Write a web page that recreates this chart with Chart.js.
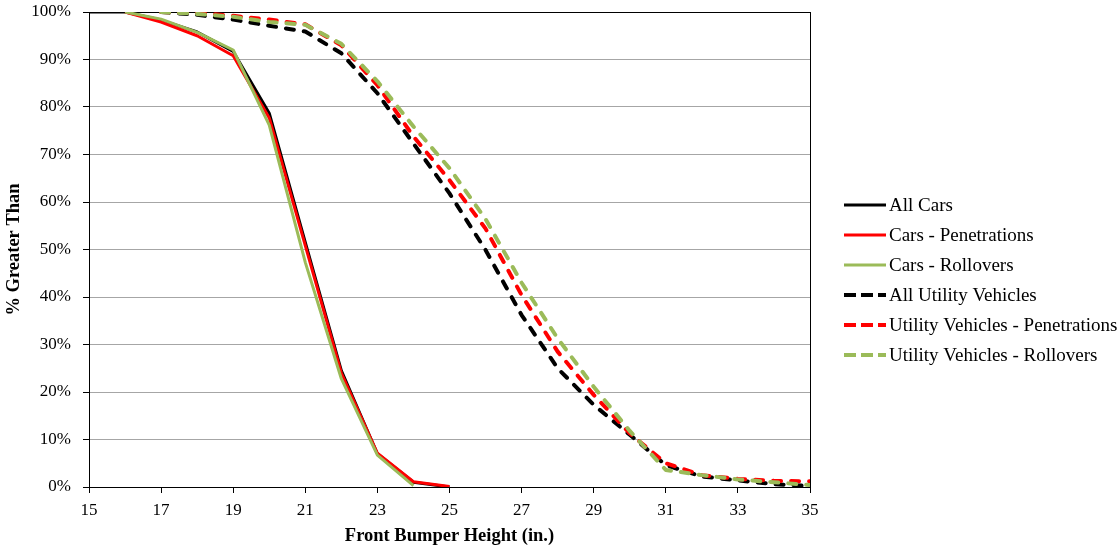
<!DOCTYPE html>
<html>
<head>
<meta charset="utf-8">
<script src="https://cdn.jsdelivr.net/npm/chart.js@4/dist/chart.umd.min.js"></script>
<style>
  body { margin: 0; background: #fff; }
  #wrap { width: 1119px; height: 548px; }
</style>
</head>
<body>
<div id="wrap"><canvas id="grafico" width="1119" height="548"></canvas></div>
<script>
// front bumper height (in.)
const alturas = [15, 16, 17, 18, 19, 20, 21, 22, 23, 24, 25, 26, 27, 28, 29, 30, 31, 32, 33, 34, 35];

// % greater than
const allCars = [100, 100, 98.3, 95.8, 91.7, 78.7, 51.5, 24.5, 7, 1, 0, null, null, null, null, null, null, null, null, null, null];
const carsPen = [null, 100, 97.9, 95, 90.8, 77.7, 50.8, 24, 7.1, 1.1, 0.1, null, null, null, null, null, null, null, null, null, null];
const carsRoll = [null, 100, 98.5, 95.7, 92, 76.2, 47.3, 22.8, 6.7, 0.3, null, null, null, null, null, null, null, null, null, null, null];
const allUV = [null, null, 100, 99.4, 98.4, 97.1, 95.9, 91.3, 82.9, 72.3, 61.8, 49.9, 36.2, 25, 17.3, 11, 4.6, 2.2, 1.4, 0.6, 0.2];
const uvPen = [null, null, 100, 99.8, 99.2, 98.4, 97.4, 93, 84.6, 73.8, 64.6, 54.4, 40.4, 28.5, 19.4, 11.3, 5, 2.5, 1.7, 1.3, 1.2];
const uvRoll = [null, null, 100, 99.6, 99, 97.9, 97.3, 93.3, 85.4, 75.9, 67.1, 56.4, 43, 31.3, 21.1, 11.8, 3.6, 2.5, 1.6, 1, 0.4];

const yTicks = [0, 10, 20, 30, 40, 50, 60, 70, 80, 90, 100];

const verde = '#9bbb59';
const vermelho = '#ff0000';
const preto = '#000000';
const fonte = '"Liberation Serif", "Times New Roman", serif';

function pontos(valores) {
    return alturas.map((x, i) => ({ x: x, y: valores[i] }));
}

const series = [
    { label: 'All Cars', data: allCars, cor: preto, tracejado: false },
    { label: 'Cars - Penetrations', data: carsPen, cor: vermelho, tracejado: false },
    { label: 'Cars - Rollovers', data: carsRoll, cor: verde, tracejado: false },
    { label: 'All Utility Vehicles', data: allUV, cor: preto, tracejado: true },
    { label: 'Utility Vehicles - Penetrations', data: uvPen, cor: vermelho, tracejado: true },
    { label: 'Utility Vehicles - Rollovers', data: uvRoll, cor: verde, tracejado: true },
];

Chart.defaults.font.family = fonte;
Chart.defaults.font.size = 17;
Chart.defaults.color = '#000';

// moldura da area do grafico
const moldura = {
    id: 'moldura',
    beforeDatasetsDraw(chart) {
        const { ctx, chartArea: a } = chart;
        ctx.save();
        ctx.strokeStyle = '#000';
        ctx.lineWidth = 1;
        ctx.strokeRect(a.left + 0.5, a.top + 0.5, a.right - a.left, a.bottom - a.top);
        ctx.restore();
    }
};

// legenda desenhada a mao
const legenda = {
    id: 'legenda',
    afterDraw(chart) {
        const ctx = chart.ctx;
        ctx.save();
        ctx.font = '19px ' + fonte;
        ctx.textBaseline = 'middle';
        ctx.fillStyle = '#000';
        series.forEach((s, i) => {
            const y = 205 + i * 30;
            ctx.strokeStyle = s.cor;
            if (s.tracejado) {
                ctx.lineWidth = 4;
                ctx.setLineDash([12, 5]);
            } else {
                ctx.lineWidth = 3;
                ctx.setLineDash([]);
            }
            ctx.beginPath();
            ctx.moveTo(844, y);
            ctx.lineTo(886, y);
            ctx.stroke();
            ctx.fillText(s.label, 889, y + 1);
        });
        ctx.restore();
    }
};

new Chart(document.getElementById('grafico'), {
    type: 'line',
    data: {
        datasets: series.map((s, i) => ({
            label: s.label,
            data: pontos(s.data),
            borderColor: s.cor,
            backgroundColor: s.cor,
            borderWidth: s.tracejado ? 4 : 3,
            borderDash: s.tracejado ? [8, 10] : [],
            borderCapStyle: s.tracejado ? 'round' : 'butt',
            borderJoinStyle: 'round',
            pointRadius: 0,
            tension: 0,
            fill: false,
            order: series.length - i, // ultimas series por cima, como no Excel
        }))
    },
    options: {
        responsive: false,
        animation: false,
        devicePixelRatio: 1,
        layout: {
            padding: { top: 12, right: 309, left: 0, bottom: 0 }
        },
        plugins: {
            legend: { display: false },
            tooltip: { enabled: false },
        },
        scales: {
            x: {
                type: 'linear',
                min: 15,
                max: 35,
                afterFit: (s) => { s.height = 61; s.paddingLeft = 0; s.paddingRight = 0; },
                ticks: { stepSize: 2, padding: 7 },
                grid: { drawOnChartArea: false, tickLength: 6, tickColor: '#000' },
                border: { color: '#000', width: 1 },
                title: {
                    display: true,
                    text: 'Front Bumper Height (in.)',
                    font: { size: 18.5, weight: 'bold' },
                    padding: { top: 0, bottom: 1 },
                },
            },
            y: {
                min: 0,
                max: 100,
                afterFit: (s) => { s.width = 89; s.paddingTop = 0; s.paddingBottom = 0; },
                afterBuildTicks: (s) => { s.ticks = yTicks.map(v => ({ value: v })); },
                ticks: { padding: 12, callback: (v) => v + '%' },
                grid: { color: '#a6a6a6', lineWidth: 1, tickLength: 6, tickColor: '#000' },
                border: { color: '#000', width: 1 },
                title: {
                    display: true,
                    text: '% Greater Than',
                    font: { size: 18.5, weight: 'bold' },
                    padding: { top: 3, bottom: 0 },
                },
            }
        }
    },
    plugins: [moldura, legenda]
});
</script>
</body>
</html>
